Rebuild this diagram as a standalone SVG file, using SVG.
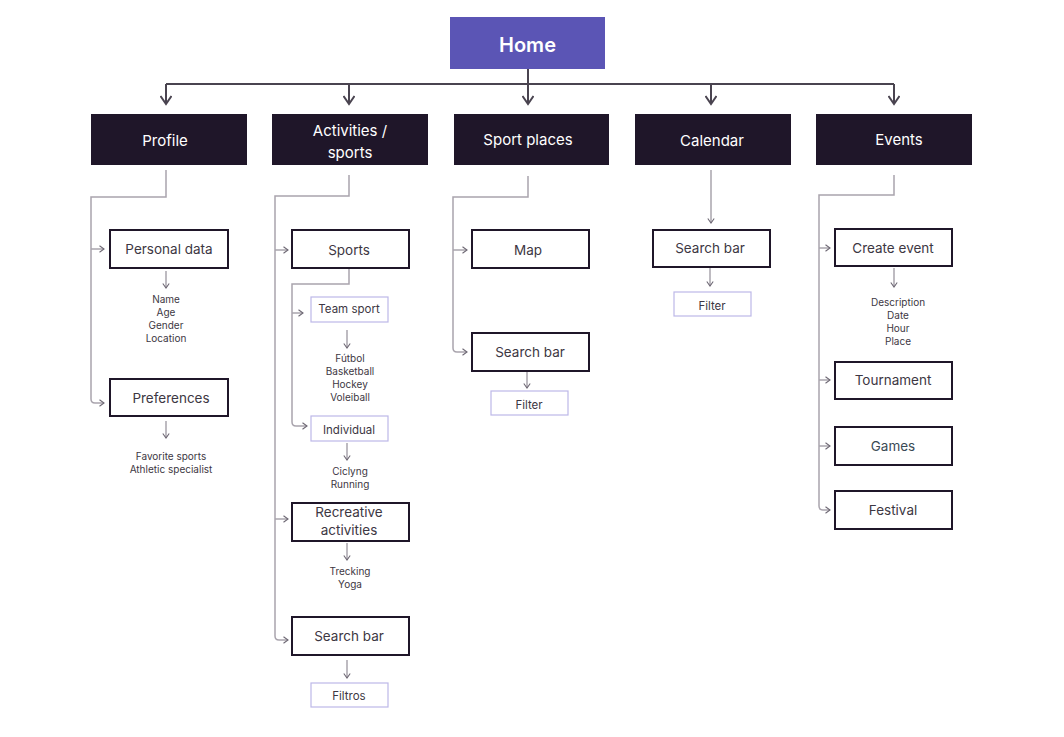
<svg xmlns="http://www.w3.org/2000/svg" width="1064" height="737" viewBox="0 0 1064 737">
<style>
text{font-family:Inter,"Noto Sans","DejaVu Sans",sans-serif;text-anchor:middle}
.top{fill:#1f1629}
.toptx{fill:#ffffff;font-size:15px}
.box{fill:#ffffff;stroke:#1f1629;stroke-width:2}
.bx{fill:#3d3743;font-size:13.5px}
.lbox{fill:#ffffff;stroke:#bdb8e8;stroke-width:1.2}
.lbx{fill:#3d3743;font-size:11.5px}
.sm{fill:#3d3743;font-size:10px}
.main{fill:none;stroke:#4a4450;stroke-width:2}
.g{fill:none;stroke:#a9a4ad;stroke-width:1.5}
</style>
<defs>
<marker id="ah" viewBox="0 0 12 12" refX="10" refY="6" markerWidth="12" markerHeight="12" markerUnits="userSpaceOnUse" orient="auto">
<path d="M2,0.5 L10,6 L2,11.5" fill="none" stroke="#4a4450" stroke-width="2"/>
</marker>
<marker id="sa" viewBox="0 0 8 8" refX="7" refY="4" markerWidth="8" markerHeight="8" markerUnits="userSpaceOnUse" orient="auto">
<path d="M2.5,0.8 L7,4 L2.5,7.2" fill="none" stroke="#6e6874" stroke-width="1.1"/>
</marker>
</defs>

<g id="connectors">
<path class="main" d="M528,69 V84 M166,84 H894"/>
<path class="main" d="M166,84 V104" marker-end="url(#ah)"/>
<path class="main" d="M349,84 V104" marker-end="url(#ah)"/>
<path class="main" d="M528,84 V104" marker-end="url(#ah)"/>
<path class="main" d="M711,84 V104" marker-end="url(#ah)"/>
<path class="main" d="M894,84 V104" marker-end="url(#ah)"/>

<!-- Profile -->
<path class="g" d="M166,170 V197 H91 V399 Q91,403 95,403 H104" marker-end="url(#sa)"/>
<path class="g" d="M91,249 H104" marker-end="url(#sa)"/>
<path class="g" d="M166,271 V288" marker-end="url(#sa)"/>
<path class="g" d="M166,421 V438" marker-end="url(#sa)"/>

<!-- Activities -->
<path class="g" d="M349,175 V196 H275 V636 Q275,640 279,640 H288" marker-end="url(#sa)"/>
<path class="g" d="M275,250 H288" marker-end="url(#sa)"/>
<path class="g" d="M275,519 H288" marker-end="url(#sa)"/>
<path class="g" d="M349,268 V284 H292 V422 Q292,426 296,426 H307" marker-end="url(#sa)"/>
<path class="g" d="M292,313 H303" marker-end="url(#sa)"/>
<path class="g" d="M347,330 V348" marker-end="url(#sa)"/>
<path class="g" d="M347,443 V460" marker-end="url(#sa)"/>
<path class="g" d="M347,543 V560" marker-end="url(#sa)"/>
<path class="g" d="M347,660 V678" marker-end="url(#sa)"/>

<!-- Sport places -->
<path class="g" d="M528,176 V197 H453 V348 Q453,352 457,352 H467" marker-end="url(#sa)"/>
<path class="g" d="M453,250 H467" marker-end="url(#sa)"/>
<path class="g" d="M527,371 V388" marker-end="url(#sa)"/>

<!-- Calendar -->
<path class="g" d="M711,170 V223" marker-end="url(#sa)"/>
<path class="g" d="M710,268 V286" marker-end="url(#sa)"/>

<!-- Events -->
<path class="g" d="M894,175 V195 H819 V506 Q819,510 823,510 H830" marker-end="url(#sa)"/>
<path class="g" d="M819,248 H830" marker-end="url(#sa)"/>
<path class="g" d="M819,380 H830" marker-end="url(#sa)"/>
<path class="g" d="M819,446 H830" marker-end="url(#sa)"/>
<path class="g" d="M894,268 V287" marker-end="url(#sa)"/>
</g>

<g id="home">
<rect x="450" y="17" width="155" height="52" fill="#5b55b5"/>
<text x="527.5" y="52" fill="#ffffff" font-size="20" font-weight="600">Home</text>
</g>

<g id="profile"><rect class="top" x="91" y="114" width="156" height="51"/><text class="toptx" x="165" y="146">Profile</text></g>
<g id="activities"><rect class="top" x="272" y="114" width="156" height="51"/><text class="toptx" x="350" y="136">Activities /</text><text class="toptx" x="350" y="158">sports</text></g>
<g id="sport-places"><rect class="top" x="454" y="114" width="155" height="51"/><text class="toptx" x="528" y="145">Sport places</text></g>
<g id="calendar"><rect class="top" x="635" y="114" width="156" height="51"/><text class="toptx" x="712" y="146">Calendar</text></g>
<g id="events"><rect class="top" x="816" y="114" width="156" height="51"/><text class="toptx" x="899" y="145">Events</text></g>

<g id="personal-data"><rect class="box" x="110" y="230" width="118" height="38"/><text class="bx" x="169" y="254">Personal data</text></g>
<g id="personal-items"><text class="sm" x="166" y="303">Name</text><text class="sm" x="166" y="316">Age</text><text class="sm" x="166" y="329">Gender</text><text class="sm" x="166" y="342">Location</text></g>
<g id="preferences"><rect class="box" x="110" y="379" width="118" height="37"/><text class="bx" x="171" y="403">Preferences</text></g>
<g id="preferences-items"><text class="sm" x="171" y="460">Favorite sports</text><text class="sm" x="171" y="473">Athletic specialist</text></g>

<g id="sports"><rect class="box" x="292" y="230" width="117" height="38"/><text class="bx" x="349" y="255">Sports</text></g>
<g id="team-sport"><rect class="lbox" x="311" y="297" width="77" height="25"/><text class="lbx" x="349" y="313">Team sport</text></g>
<g id="team-items"><text class="sm" x="350" y="362">Fútbol</text><text class="sm" x="350" y="375">Basketball</text><text class="sm" x="350" y="388">Hockey</text><text class="sm" x="350" y="401">Voleiball</text></g>
<g id="individual"><rect class="lbox" x="311" y="416" width="77" height="25"/><text class="lbx" x="349" y="434">Individual</text></g>
<g id="individual-items"><text class="sm" x="350" y="475">Ciclyng</text><text class="sm" x="350" y="488">Running</text></g>
<g id="recreative"><rect class="box" x="292" y="503" width="117" height="38"/><text class="bx" x="349" y="517">Recreative</text><text class="bx" x="349" y="535">activities</text></g>
<g id="recreative-items"><text class="sm" x="350" y="575">Trecking</text><text class="sm" x="350" y="588">Yoga</text></g>
<g id="act-search"><rect class="box" x="292" y="617" width="117" height="38"/><text class="bx" x="349" y="641">Search bar</text></g>
<g id="filtros"><rect class="lbox" x="311" y="683" width="77" height="24"/><text class="lbx" x="349" y="700">Filtros</text></g>

<g id="map"><rect class="box" x="472" y="230" width="117" height="38"/><text class="bx" x="528" y="255">Map</text></g>
<g id="sp-search"><rect class="box" x="472" y="333" width="117" height="38"/><text class="bx" x="530" y="357">Search bar</text></g>
<g id="sp-filter"><rect class="lbox" x="491" y="391" width="77" height="24"/><text class="lbx" x="529" y="409">Filter</text></g>

<g id="cal-search"><rect class="box" x="653" y="230" width="117" height="37"/><text class="bx" x="710" y="253">Search bar</text></g>
<g id="cal-filter"><rect class="lbox" x="674" y="292" width="77" height="24"/><text class="lbx" x="712" y="310">Filter</text></g>

<g id="create-event"><rect class="box" x="835" y="229" width="117" height="37"/><text class="bx" x="893" y="253">Create event</text></g>
<g id="event-items"><text class="sm" x="898" y="306">Description</text><text class="sm" x="898" y="319">Date</text><text class="sm" x="898" y="332">Hour</text><text class="sm" x="898" y="345">Place</text></g>
<g id="tournament"><rect class="box" x="835" y="362" width="117" height="37"/><text class="bx" x="893" y="385">Tournament</text></g>
<g id="games"><rect class="box" x="835" y="427" width="117" height="38"/><text class="bx" x="893" y="451" style="fill:#3a4a55">Games</text></g>
<g id="festival"><rect class="box" x="835" y="491" width="117" height="38"/><text class="bx" x="893" y="515">Festival</text></g>
</svg>
